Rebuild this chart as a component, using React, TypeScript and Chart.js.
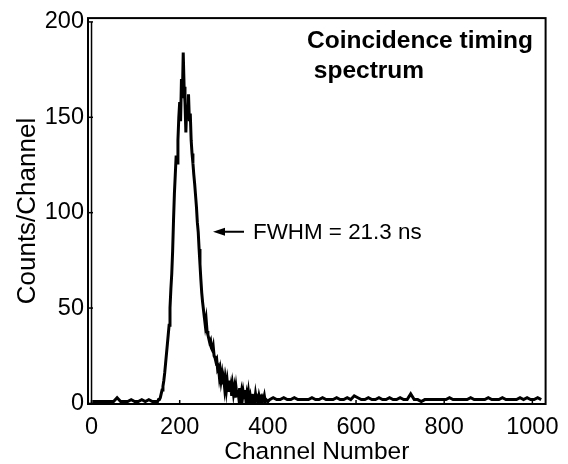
import React, { useEffect, useRef } from 'react';
import { Chart, registerables } from 'chart.js';

Chart.register(...registerables);

const FONT = '"Liberation Sans", Arial, Helvetica, sans-serif';

const xTickValues = [0, 200, 400, 600, 800, 1000];
const yTickValues = [0, 50, 100, 150, 200];

const titleLines = ['Coincidence timing', ' spectrum'];
const annotation = 'FWHM = 21.3 ns';
const annotationLevel = 90;
const xTitle = 'Channel Number';
const yTitle = 'Counts/Channel';

// Background before the peak (channels 2..146, every 8th channel)
const preStart = 2;
const preStep = 8;
const preCounts = [1, 1, 1, 1, 1, 1, 1, 3, 1, 1, 1, 2, 1, 1, 2, 1, 2, 1, 1];

// Peak region (channels 148..400, every 2nd channel)
const peakStart = 148;
const peakStep = 2;
const peakCounts = [
  1, 1, 2, 2, 3, 5, 7, 9, 12, 16,
  21, 26, 31, 36, 41, 50, 60, 68, 80, 96,
  110, 120, 130, 126, 138, 150, 158, 148, 170, 160,
  184, 166, 158, 142, 156, 150, 162, 148, 152, 138,
  131, 126, 120, 115, 109, 103, 95, 90, 81, 73,
  65, 58, 53, 49, 45, 41, 44, 38, 36, 34,
  32, 33, 29, 28, 30, 25, 24, 22, 23, 18,
  19, 14, 17, 12, 15, 10, 13, 8, 12, 7,
  11, 6, 12, 6, 9, 4, 9, 5, 8, 3,
  8, 4, 7, 3, 8, 3, 6, 2, 6, 3,
  7, 2, 5, 2, 6, 2, 4, 1, 5, 2,
  3, 1, 5, 2, 3, 1, 4, 2, 3, 1,
  3, 2, 4, 1, 2, 2, 1,
];

// Background after the peak (channels 404..1020, every 8th channel)
const postStart = 404;
const postStep = 8;
const postCounts = [
  2, 3, 2, 2, 3, 2, 2, 3, 2, 2,
  2, 2, 3, 2, 2, 3, 2, 2, 2, 3,
  2, 2, 3, 2, 4, 3, 2, 2, 3, 2,
  2, 3, 2, 2, 3, 2, 2, 3, 2, 2,
  5, 2, 2, 1, 2, 2, 2, 2, 2, 2,
  2, 3, 2, 2, 2, 2, 2, 3, 2, 2,
  2, 2, 3, 2, 2, 2, 3, 2, 2, 2,
  2, 3, 2, 3, 2, 2, 3, 2,
];

function segment(start: number, step: number, counts: number[]) {
  return counts.map((c, i) => ({ x: start + i * step, y: c }));
}

const overlayPlugin = {
  id: 'overlay',
  afterDraw(chart: any) {
    const { ctx, chartArea, scales } = chart;
    const xs = scales.x;
    const ys = scales.y;
    const { left, right, top, bottom } = chartArea;
    ctx.save();
    ctx.strokeStyle = '#000';
    ctx.fillStyle = '#000';
    // frame
    ctx.lineWidth = 2;
    ctx.strokeRect(left, top, right - left, bottom - top);
    // y axis line at x = 0
    const x0 = xs.getPixelForValue(0);
    ctx.lineWidth = 1.5;
    ctx.beginPath();
    ctx.moveTo(x0, ys.getPixelForValue(0));
    ctx.lineTo(x0, ys.getPixelForValue(200));
    ctx.stroke();
    // inward ticks
    ctx.lineWidth = 1.5;
    yTickValues.forEach((v) => {
      const y = ys.getPixelForValue(v);
      ctx.beginPath();
      ctx.moveTo(left, y);
      ctx.lineTo(left + 5, y);
      ctx.stroke();
    });
    xTickValues.forEach((v) => {
      const x = xs.getPixelForValue(v);
      ctx.beginPath();
      ctx.moveTo(x, bottom);
      ctx.lineTo(x, bottom - 4);
      ctx.stroke();
    });
    // title
    ctx.font = `bold 24.5px ${FONT}`;
    ctx.textBaseline = 'alphabetic';
    ctx.textAlign = 'left';
    ctx.fillText(titleLines[0], 307, 48);
    ctx.fillText(titleLines[1], 307, 78);
    // annotation with arrow
    const ay = ys.getPixelForValue(annotationLevel);
    ctx.lineWidth = 2;
    ctx.beginPath();
    ctx.moveTo(244, ay);
    ctx.lineTo(220, ay);
    ctx.stroke();
    ctx.beginPath();
    ctx.moveTo(213, ay);
    ctx.lineTo(225, ay - 4);
    ctx.lineTo(225, ay + 4);
    ctx.closePath();
    ctx.fill();
    ctx.font = `22.4px ${FONT}`;
    ctx.textBaseline = 'middle';
    ctx.fillText(annotation, 253, ay + 1);
    ctx.restore();
  },
};

export default function App() {
  const canvasRef = useRef<HTMLCanvasElement | null>(null);

  useEffect(() => {
    if (!canvasRef.current) return;
    const data = [
      ...segment(preStart, preStep, preCounts),
      ...segment(peakStart, peakStep, peakCounts),
      ...segment(postStart, postStep, postCounts),
    ];
    const chart = new Chart(canvasRef.current, {
      type: 'line',
      data: {
        datasets: [
          {
            data,
            borderColor: '#000',
            borderWidth: 3,
            pointRadius: 0,
            tension: 0,
            fill: false,
          },
        ],
      },
      options: {
        responsive: false,
        animation: false,
        events: [],
        layout: { padding: { top: 15, right: 17, left: 0, bottom: 0 } },
        plugins: { legend: { display: false }, tooltip: { enabled: false }, title: { display: false } },
        scales: {
          x: {
            type: 'linear',
            min: -8,
            max: 1030,
            afterBuildTicks: (scale: any) => {
              scale.ticks = xTickValues.map((v) => ({ value: v }));
            },
            afterFit: (scale: any) => {
              scale.height = 60;
            },
            grid: { display: false, drawTicks: false },
            border: { display: false },
            ticks: {
              color: '#000',
              font: { family: FONT, size: 23.5 },
              padding: 9,
              autoSkip: false,
              maxRotation: 0,
              callback: (v: any) => String(v),
            },
            title: {
              display: true,
              text: xTitle,
              color: '#000',
              font: { family: FONT, size: 24.5, lineHeight: 1 },
              padding: { top: 0, bottom: 0 },
            },
          },
          y: {
            min: -0.3,
            max: 202,
            afterBuildTicks: (scale: any) => {
              scale.ticks = yTickValues.map((v) => ({ value: v }));
            },
            afterFit: (scale: any) => {
              scale.width = 88;
            },
            grid: { display: false, drawTicks: false },
            border: { display: false },
            ticks: {
              color: '#000',
              font: { family: FONT, size: 23.5 },
              padding: 4,
              callback: (v: any) => String(v),
            },
            title: {
              display: true,
              text: yTitle,
              color: '#000',
              font: { family: FONT, size: 26, lineHeight: 1 },
              padding: { top: 15, bottom: 0 },
            },
          },
        },
      },
      plugins: [overlayPlugin],
    });
    return () => chart.destroy();
  }, []);

  return (
    <div style={{ position: 'absolute', left: 0, top: 0, width: 568, height: 464, background: '#fff' }}>
      <canvas ref={canvasRef} width={568} height={464} style={{ display: 'block' }} />
    </div>
  );
}
